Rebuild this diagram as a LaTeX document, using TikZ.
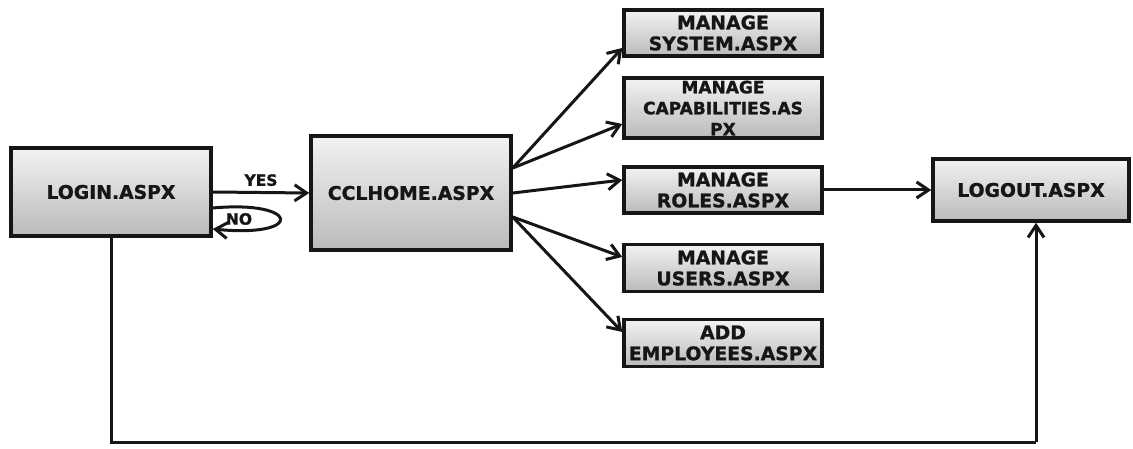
\documentclass[tikz,border=0pt]{standalone}
\usepackage{fontspec}
\setmainfont{DejaVu Sans}[BoldFeatures={FakeBold=1.2}]
\usetikzlibrary{arrows.meta,calc}
\definecolor{ink}{HTML}{161616}
\tikzset{
  page/.style={draw=ink, line width=3.5pt, top color=black!5, bottom color=black!27,
    inner sep=0pt, text=ink, font=\bfseries\fontsize{18.8}{21}\selectfont, align=center},
  narrowtext/.style={font=\bfseries\fontsize{17}{21}\selectfont},
  flow/.style={draw=ink, line width=3pt, -{Straight Barb[length=12pt,width=16pt]}},
  plainline/.style={draw=ink, line width=3pt},
  lbl/.style={text=ink, font=\bfseries\fontsize{15.5}{17}\selectfont, inner sep=0pt}
}
\begin{document}
\begin{tikzpicture}[x=1pt,y=-1pt]
\useasboundingbox (0,0) rectangle (1133,449);
\fill[white] (0,0) rectangle (1133,449);

% pages
\node[page, minimum width=200pt, minimum height=88pt] (login) at (111,192) {LOGIN.ASPX};
\node[page, minimum width=200pt, minimum height=114pt] (home) at (411,193) {CCLHOME.ASPX};
\node[page, minimum width=198pt, minimum height=46pt] (system) at (723,33) {MANAGE\\SYSTEM.ASPX};
\node[page, narrowtext, minimum width=198pt, minimum height=60pt] (caps) at (723,108) {MANAGE\\CAPABILITIES.AS\\PX};
\node[page, minimum width=198pt, minimum height=46pt] (roles) at (723,190) {MANAGE\\ROLES.ASPX};
\node[page, minimum width=198pt, minimum height=47pt] (users) at (723,268) {MANAGE\\USERS.ASPX};
\node[page, minimum width=198pt, minimum height=47pt] (addemp) at (723,343) {ADD\\EMPLOYEES.ASPX};
\node[page, minimum width=196pt, minimum height=62pt] (logout) at (1031,190) {LOGOUT.ASPX};

% login decision
\draw[flow] (login.east) -- node[lbl, above=5pt] (yes) {YES} (home.west);
\draw[flow] ([yshift=-16pt]login.east) .. controls (300,200) and (305,238) .. ([yshift=-37pt]login.east);
\node[lbl] (no) at (239,219) {NO};

% home page links
\draw[flow] ([yshift=25pt]home.east) -- ([yshift=-15pt]system.west);
\draw[flow] ([yshift=25pt]home.east) -- ([yshift=-16pt]caps.west);
\draw[flow] (home.east) -- ([yshift=10pt]roles.west);
\draw[flow] ([yshift=-24pt]home.east) -- ([yshift=11pt]users.west);
\draw[flow] ([yshift=-24pt]home.east) -- ([yshift=11pt]addemp.west);

% to logout
\draw[flow] (roles.east) -- (logout.west);
\coordinate (bl) at (login.south |- 0,442);
\coordinate (br) at ([xshift=5pt]logout.south |- 0,442);
\draw[plainline] (login.south) -- (bl) -- (br);
\draw[flow] (br) -- ([xshift=5pt]logout.south);
\end{tikzpicture}
\end{document}
